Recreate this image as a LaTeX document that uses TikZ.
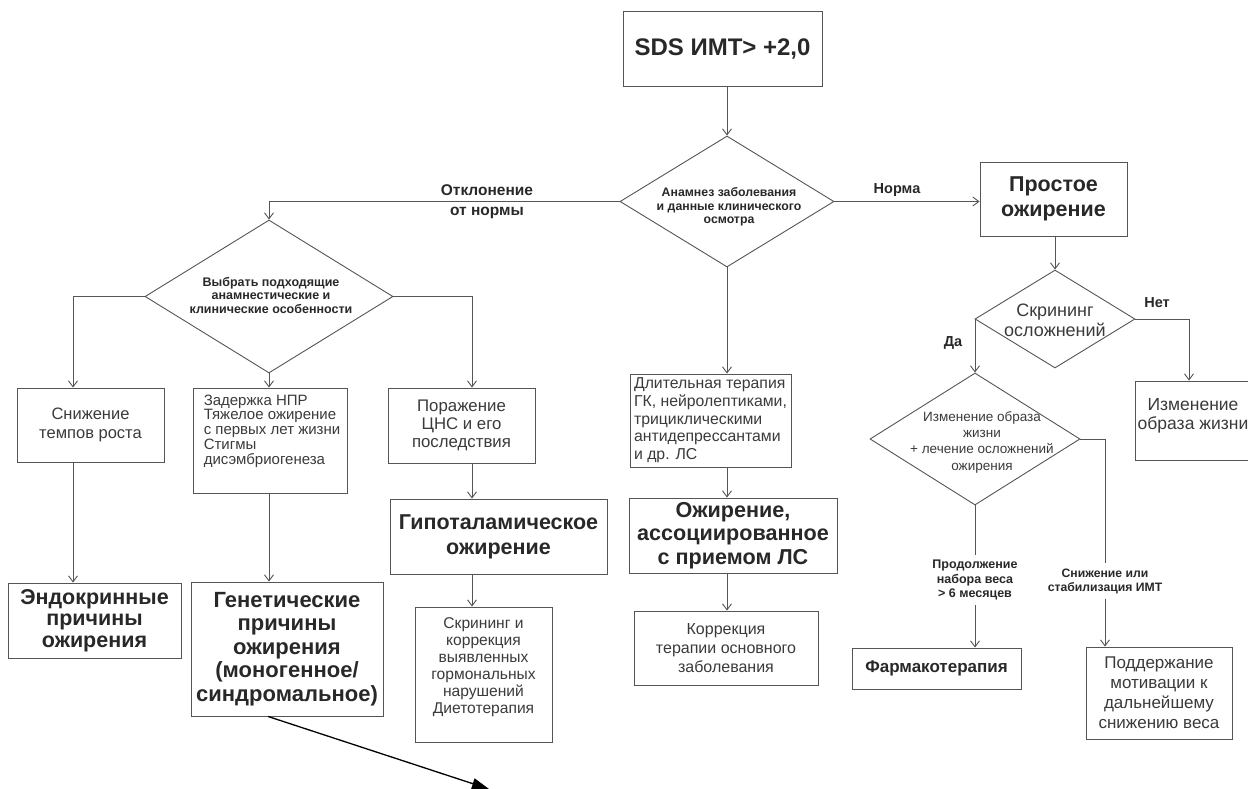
\documentclass[tikz,border=0pt]{standalone}
\usepackage{fontspec}
\setmainfont{Liberation Sans}
\usetikzlibrary{shapes.geometric,arrows.meta}
\definecolor{lin}{RGB}{85,85,85}
\definecolor{txt}{RGB}{40,40,40}
\definecolor{txtr}{RGB}{58,58,58}
\newcommand{\fs}[2]{\fontsize{#1}{#2}\selectfont}
\begin{document}
\begin{tikzpicture}[x=1pt,y=-1pt,
  box/.style={draw=lin, line width=0.9pt, inner sep=0pt, align=center, text=txtr},
  bbox/.style={box, text=txt},
  dia/.style={draw=lin, line width=0.9pt, shape=diamond, inner sep=0pt},
  dtext/.style={align=center, text=txt, inner sep=0pt},
  lab/.style={align=center, text=txt, font=\bfseries\fs{14.5}{16}, inner sep=0pt},
  arr/.style={draw=lin, line width=0.9pt, -{Straight Barb[length=6pt,width=9pt]}},
  ln/.style={draw=lin, line width=0.9pt},
]
\useasboundingbox (0,0) rectangle (1248,789);

% column coordinates
\coordinate (c1) at (73,0);
\coordinate (c3) at (472,0);
\coordinate (cn) at (1189,0);
\coordinate (tgt) at (489,789);

% top
\node[bbox, minimum width=199pt, minimum height=75pt, font=\bfseries\fs{24}{28}] (top) at (722.5,48.5) {SDS ИМТ> +2,0};

% main diamond
\node[dia, minimum width=214pt, minimum height=131pt] (d1) at (727,201.5) {};
\node[dtext, font=\bfseries\fs{12.3}{13.5}] (d1t) at (729,207) {Анамнез заболевания\\и данные клинического\\осмотра};

% left diamond
\node[dia, minimum width=248pt, minimum height=153pt] (d2) at (269,296.5) {};
\node[dtext, font=\bfseries\fs{12.5}{13.5}] (d2t) at (271,295) {Выбрать подходящие\\анамнестические и\\клинические особенности};

% left boxes
\node[box, minimum width=147pt, minimum height=74pt, font=\fs{16.5}{18.5}] (b1) at (90.5,425) {Снижение\\темпов роста};
\node[box, minimum width=154pt, minimum height=105pt] (b2) at (270,440.5) {};
\node[align=left, text=txtr, inner sep=0pt, font=\fs{15}{14.8}] (b2t) at (272,431) {Задержка НПР\\Тяжелое ожирение\\с первых лет жизни\\Стигмы\\дисэмбриогенеза};
\node[box, minimum width=147pt, minimum height=75pt, font=\fs{16.8}{18.3}] (b3) at (461.5,425.5) {Поражение\\ЦНС и его\\последствия};

\node[bbox, minimum width=173pt, minimum height=75pt, font=\bfseries\fs{21.5}{21.7}] (endo) at (94.5,620.5) {Эндокринные\\причины\\ожирения};
\node[bbox, minimum width=192pt, minimum height=134pt, font=\bfseries\fs{22}{23.5}] (gen) at (287,649) {Генетические\\причины\\ожирения\\(моногенное/\\синдромальное)};
\node[bbox, minimum width=217pt, minimum height=75pt, font=\bfseries\fs{21.5}{25}] (hyp) at (498.5,536.5) {Гипоталамическое\\ожирение};
\node[box, minimum width=137pt, minimum height=135pt] (scr) at (483.5,674.5) {};
\node[align=center, text=txtr, inner sep=0pt, font=\fs{15.6}{17}] (scrt) at (483.5,667.5) {Скрининг и\\коррекция\\выявленных\\гормональных\\нарушений\\Диетотерапия};

% middle column
\node[box, minimum width=161pt, minimum height=93pt, align=left, font=\fs{15.8}{17.7}] (dlit) at (710.5,420.5) {Длительная терапия\\ГК, нейролептиками,\\трициклическими\\антидепрессантами\\и др. ЛС};
\node[bbox, minimum width=208pt, minimum height=75pt, font=\bfseries\fs{21.6}{23.5}] (assoc) at (733,535.5) {Ожирение,\\ассоциированное\\с приемом ЛС};
\node[box, minimum width=184pt, minimum height=74pt, font=\fs{16}{19}] (korr) at (726,648) {Коррекция\\терапии основного\\заболевания};

% right side
\node[bbox, minimum width=147pt, minimum height=74pt, font=\bfseries\fs{21.5}{25}] (prost) at (1053.5,199) {Простое\\ожирение};
\node[dia, minimum width=160pt, minimum height=98pt] (d4) at (1055,319) {};
\node[dtext, text=txtr, font=\fs{18}{20}] (d4t) at (1055,320) {Скрининг\\осложнений};
\node[box, minimum width=130pt, minimum height=79pt] (izm) at (1200,420.5) {};
\node[align=center, text=txtr, inner sep=0pt, font=\fs{17.5}{19}] (izmt) at (1193,416) {Изменение\\образа жизни};
\node[dia, minimum width=210pt, minimum height=132pt] (d3) at (975,439) {};
\node[dtext, text=txtr, font=\fs{13.5}{16.3}] (d3t) at (982,442) {Изменение образа\\жизни\\+ лечение осложнений\\ожирения};
\node[bbox, minimum width=169pt, minimum height=41pt, font=\bfseries\fs{17}{19}] (farm) at (936.5,668.5) {Фармакотерапия};
\node[box, minimum width=146pt, minimum height=92pt, font=\fs{17}{20}] (podd) at (1159,693) {Поддержание\\мотивации к\\дальнейшему\\снижению веса};

% labels
\node[lab, font=\bfseries\fs{15.5}{20}] (lotk) at (487,202) {Отклонение\\от нормы};
\node[lab] (lnorm) at (897,190) {Норма};
\node[lab] (lnet) at (1157,303) {Нет};
\node[lab] (lda) at (953,343) {Да};
\node[lab, font=\bfseries\fs{12.5}{14.5}, inner sep=5pt] (lprod) at (975,580) {Продолжение\\набора веса\\> 6 месяцев};
\node[lab, font=\bfseries\fs{12.2}{14}, inner sep=5pt] (lsniz) at (1105,581) {Снижение или\\стабилизация ИМТ};

% connectors
\draw[arr] (top.south -| d1.north) -- (d1.north);
\draw[arr] (d1.west) -| (d2.north);
\draw[arr] (d1.east) -- (d1.east -| prost.west);
\draw[arr] (d1.south) -- (d1.south |- dlit.north);
\draw[arr] (dlit.south -| d1.south) -- (assoc.north -| d1.south);
\draw[arr] (assoc.south -| d1.south) -- (korr.north -| d1.south);

\draw[arr] (d2.west) -| (c1 |- b1.north);
\draw[arr] (b1.south -| c1) -- (endo.north -| c1);
\draw[arr] (d2.south) -- (d2.south |- b2.north);
\draw[arr] (b2.south -| d2.south) -- (gen.north -| d2.south);
\draw[arr] (d2.east) -| (c3 |- b3.north);
\draw[arr] (b3.south -| c3) -- (hyp.north -| c3);
\draw[arr] (hyp.south -| c3) -- (scr.north -| c3);

\draw[black, line width=1.3pt, -{Triangle[length=17pt,width=11pt]}] ([xshift=-19pt]gen.south) -- (tgt);

\draw[arr] (prost.south -| d4.north) -- (d4.north);
\draw[arr] (d4.west) -| (d3.north);
\draw[arr] (d4.east) -| (cn |- izm.north);
\draw[ln] (d3.south) -- (lprod.north);
\draw[arr] (lprod.south) -- (farm.north -| lprod.south);
\draw[ln] (d3.east) -| (lsniz.north);
\draw[arr] (lsniz.south) -- (podd.north -| lsniz.south);
\end{tikzpicture}
\end{document}
